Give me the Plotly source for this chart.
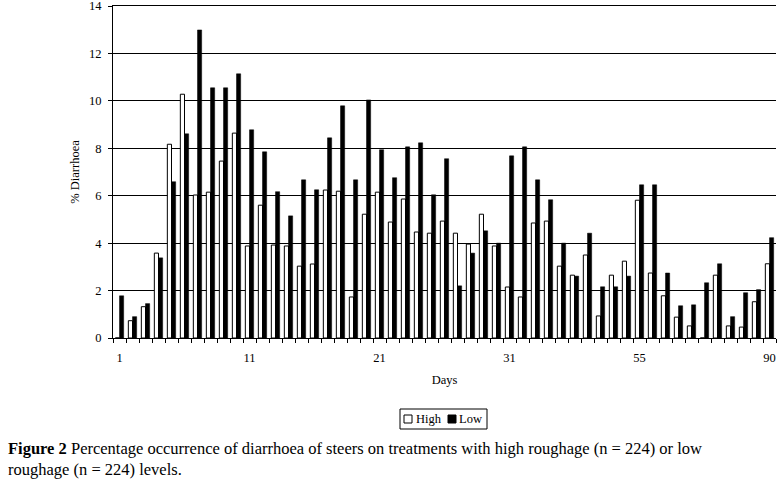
import plotly.graph_objects as go

# category positions (51 observation days) and tick labels
positions = list(range(1, 52))
tick_positions = [1, 11, 21, 31, 41, 51]
tick_labels = ["1", "11", "21", "31", "55", "90"]
y_ticks = [0, 2, 4, 6, 8, 10, 12, 14]

high = [0, 0.73, 1.32, 3.58, 8.17, 10.28, 6.03, 6.15, 7.46, 8.64,
        3.88, 5.6, 3.92, 3.88, 3.03, 3.12, 6.24, 6.19, 1.73, 5.22,
        6.15, 4.89, 5.86, 4.47, 4.42, 4.93, 4.42, 3.96, 5.22, 3.88,
        2.15, 1.73, 4.85, 4.93, 3.03, 2.65, 3.5, 0.93, 2.65, 3.24,
        5.81, 2.74, 1.78, 0.88, 0.51, 0, 2.65, 0.51, 0.46, 1.53, 3.13]
low = [1.78, 0.9, 1.45, 3.38, 6.59, 8.61, 12.99, 10.55, 10.55, 11.14,
       8.78, 7.85, 6.17, 5.15, 6.67, 6.25, 8.44, 9.79, 6.67, 10.04,
       7.94, 6.76, 8.06, 8.23, 6.04, 7.56, 2.2, 3.58, 4.52, 4.0,
       7.68, 8.06, 6.67, 5.83, 4.0, 2.61, 4.42, 2.16, 2.16, 2.61,
       6.46, 6.46, 2.74, 1.36, 1.40, 2.33, 3.13, 0.9, 1.91, 2.04, 4.23]

font = "Liberation Serif"

W, H = 778, 479
L, R, T, B = 113, 2, 6, 141
PW, PH = W - L - R, H - T - B


def px(x):
    return (x - L) / PW


def py(y):
    return (H - B - y) / PH


fig = go.Figure()
fig.add_trace(go.Bar(x=positions, y=high, name="High", showlegend=False,
                     marker=dict(color="white", line=dict(color="black", width=1))))
fig.add_trace(go.Bar(x=positions, y=low, name="Low", showlegend=False,
                     marker=dict(color="black", line=dict(color="black", width=0.5))))

fig.update_layout(
    width=W, height=H,
    margin=dict(l=L, r=R, t=T, b=B),
    paper_bgcolor="white", plot_bgcolor="white",
    barmode="group", bargap=0.36, bargroupgap=0,
    font=dict(family=font, size=12.5, color="black"),
    xaxis=dict(range=[0.5, 51.5], tickvals=tick_positions, ticktext=tick_labels,
               ticks="", showgrid=False, zeroline=False, automargin=False,
               showline=True, linecolor="black", linewidth=1, mirror=True,
               tickfont=dict(family=font, size=12.5), ticklabelstandoff=8,
               minor=dict(tick0=0.5, dtick=1, ticks="outside", ticklen=4,
                          tickcolor="black", showgrid=False),
               title=dict(text="Days", font=dict(family=font, size=12.5), standoff=11)),
    yaxis=dict(range=[0, 14], tickvals=y_ticks, ticks="outside", ticklen=4,
               tickcolor="black", ticklabelstandoff=4, ticklabeloverflow="allow",
               showgrid=True, gridcolor="black", gridwidth=1, automargin=False,
               zeroline=False, showline=True, linecolor="black", linewidth=1,
               tickfont=dict(family=font, size=12.5),
               title=dict(text="% Diarrhoea", font=dict(family=font, size=12.5), standoff=6)),
)

# legend box (drawn to match the compact original legend)
fig.add_shape(type="rect", xref="paper", yref="paper",
              x0=px(400), x1=px(487), y0=py(429), y1=py(409),
              line=dict(color="black", width=1), fillcolor="white")
fig.add_shape(type="rect", xref="paper", yref="paper",
              x0=px(404), x1=px(412), y0=py(423), y1=py(415),
              line=dict(color="black", width=1), fillcolor="white")
fig.add_shape(type="rect", xref="paper", yref="paper",
              x0=px(448), x1=px(456), y0=py(423), y1=py(415),
              line=dict(color="black", width=1), fillcolor="black")
fig.add_annotation(xref="paper", yref="paper", x=px(414), y=py(419), xanchor="left",
                   yanchor="middle", showarrow=False, text="High",
                   font=dict(family=font, size=12.5, color="black"))
fig.add_annotation(xref="paper", yref="paper", x=px(457), y=py(419), xanchor="left",
                   yanchor="middle", showarrow=False, text="Low",
                   font=dict(family=font, size=12.5, color="black"))

fig.add_annotation(
    xref="paper", yref="paper", x=px(6), y=py(437), xanchor="left", yanchor="top",
    align="left", showarrow=False,
    text="<b>Figure 2</b> Percentage occurrence of diarrhoea of steers on treatments with high roughage (n = 224) or low<br>roughage (n = 224) levels.",
    font=dict(family=font, size=16.5, color="black"),
)

fig.write_html("out.html", config={"displayModeBar": False},
               post_script="document.body.style.margin='0';document.body.style.overflow='hidden';")
